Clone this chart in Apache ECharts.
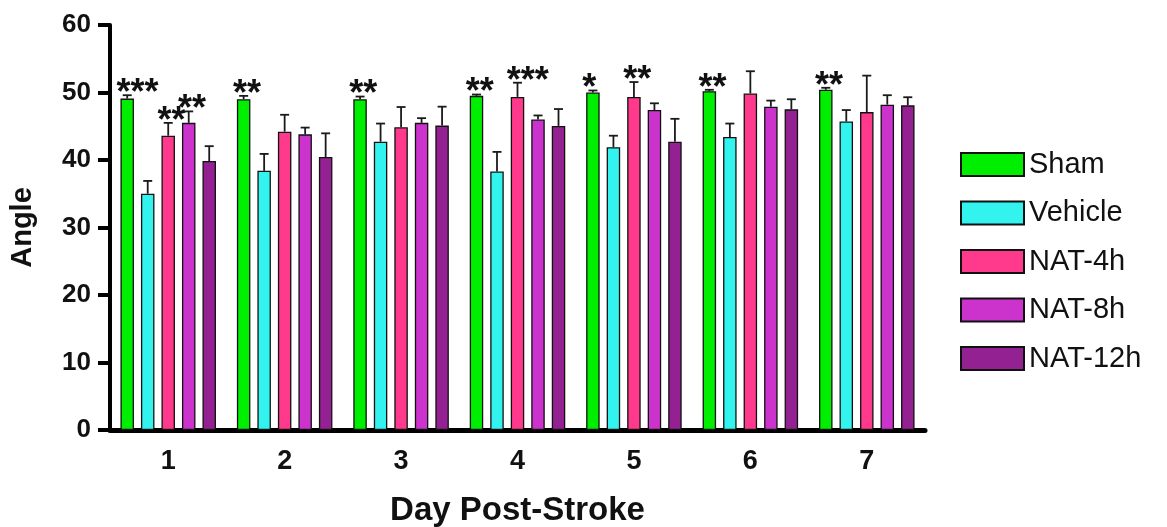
<!DOCTYPE html>
<html>
<head>
<meta charset="utf-8">
<script src="https://cdn.jsdelivr.net/npm/echarts@6/dist/echarts.min.js"></script>
<style>html,body{margin:0;padding:0;background:#fff;}#c{width:1167px;height:527px;}</style>
</head>
<body>
<div id="c"></div>
<script>
const days = ['1', '2', '3', '4', '5', '6', '7'];
const groups = ['Sham', 'Vehicle', 'NAT-4h', 'NAT-8h', 'NAT-12h'];
const yTicks = [0, 10, 20, 30, 40, 50, 60];

const shamMean = [49.1, 49.0, 49.0, 49.5, 50.0, 50.2, 50.4];
const shamErr = [0.5, 0.5, 0.4, 0.2, 0.3, 0.2, 0.3];
const vehicleMean = [35.0, 38.4, 42.7, 38.3, 41.9, 43.4, 45.7];
const vehicleErr = [1.9, 2.5, 2.7, 2.9, 1.7, 2.0, 1.7];
const nat4Mean = [43.6, 44.2, 44.85, 49.35, 49.35, 49.85, 47.1];
const nat4Err = [1.9, 2.5, 3.0, 2.1, 2.2, 3.3, 5.4];
const nat8Mean = [45.5, 43.8, 45.5, 46.0, 47.4, 47.9, 48.2];
const nat8Err = [1.7, 1.0, 0.7, 0.6, 1.0, 0.9, 1.4];
const nat12Mean = [39.85, 40.45, 45.1, 45.05, 42.7, 47.5, 48.1];
const nat12Err = [2.2, 3.5, 2.8, 2.5, 3.4, 1.5, 1.2];

const shamStars = ['***', '**', '**', '**', '*', '**', '**'];
const vehicleStars = ['', '', '', '', '', '', ''];
const nat4Stars = ['**', '', '', '***', '**', '', ''];
const nat8Stars = ['**', '', '', '', '', '', ''];
const nat12Stars = ['', '', '', '', '', '', ''];

const means = [shamMean, vehicleMean, nat4Mean, nat8Mean, nat12Mean];
const errs = [shamErr, vehicleErr, nat4Err, nat8Err, nat12Err];
const stars = [shamStars, vehicleStars, nat4Stars, nat8Stars, nat12Stars];
const colors = ['#00ee00', '#33f3ef', '#ff3a8c', '#cc33cc', '#942191'];

const FONT = "'Liberation Sans', Arial, Helvetica, sans-serif";
const BAR_W = 13.5;
const GAP = 7;

const chart = echarts.init(document.getElementById('c'), null, {renderer: 'canvas'});

const series = [];
groups.forEach((g, i) => {
  series.push({
    name: g,
    type: 'bar',
    barWidth: BAR_W,
    barGap: (GAP / BAR_W * 100).toFixed(1) + '%',
    data: means[i],
    itemStyle: {color: colors[i], borderColor: '#111', borderWidth: 1.3},
    emphasis: {disabled: true},
    z: 2
  });
});
groups.forEach((g, i) => {
  const offset = (i - 2) * (BAR_W + GAP);
  series.push({
    type: 'custom',
    name: g + '-err',
    data: days.map((d, k) => [k, means[i][k], errs[i][k]]),
    encode: {x: 0, y: 1},
    z: 3,
    silent: true,
    renderItem: function (params, api) {
      const k = api.value(0);
      const m = api.value(1);
      const e = api.value(2);
      const s = stars[i][k];
      const base = api.coord([k, m]);
      const top = api.coord([k, m + e]);
      const x = base[0] + offset;
      const children = [
        {type: 'line', shape: {x1: x, y1: base[1], x2: x, y2: top[1]}, style: {stroke: '#1a1a1a', lineWidth: 1.8}},
        {type: 'line', shape: {x1: x - 4.5, y1: top[1], x2: x + 4.5, y2: top[1]}, style: {stroke: '#1a1a1a', lineWidth: 1.8}}
      ];
      if (s) {
        children.push({
          type: 'text',
          style: {
            text: s, x: x - BAR_W / 2 - 4, y: top[1] - 1,
            align: 'left', verticalAlign: 'middle',
            font: 'bold 36px ' + FONT, fill: '#111'
          }
        });
      }
      return {type: 'group', children: children};
    }
  });
});

chart.setOption({
  animation: false,
  backgroundColor: '#fff',
  grid: {left: 110, top: 25, width: 815, height: 405, containLabel: false, outerBoundsMode: 'none'},
  legend: {
    data: groups,
    orient: 'vertical',
    left: 955,
    top: 145,
    itemWidth: 63,
    itemHeight: 23,
    itemGap: 19.5,
    icon: 'rect',
    textStyle: {fontSize: 29, color: '#111', fontFamily: FONT, padding: [0, 0, 0, 0]},
    selectedMode: false
  },
  xAxis: {
    type: 'category',
    data: days,
    name: 'Day Post-Stroke',
    nameLocation: 'middle',
    nameGap: 64,
    nameTextStyle: {fontSize: 33, fontWeight: 'bold', color: '#111', fontFamily: FONT},
    axisLine: {lineStyle: {color: '#000', width: 5}},
    axisTick: {alignWithLabel: true, length: 12, lineStyle: {color: '#000', width: 4}},
    axisLabel: {fontSize: 27, fontWeight: 'bold', color: '#111', fontFamily: FONT, margin: 18},
    splitLine: {show: false}
  },
  yAxis: {
    type: 'value',
    min: 0,
    max: 60,
    interval: 10,
    name: 'Angle',
    nameLocation: 'middle',
    nameGap: 73,
    nameTextStyle: {fontSize: 29, fontWeight: 'bold', color: '#111', fontFamily: FONT},
    axisLine: {show: true, lineStyle: {color: '#000', width: 4}},
    axisTick: {show: true, length: 12, lineStyle: {color: '#000', width: 4}},
    axisLabel: {fontSize: 26, fontWeight: 'bold', color: '#111', fontFamily: FONT, margin: 19,
      formatter: v => yTicks.includes(v) ? String(v) : ''},
    splitLine: {show: false}
  },
  series: series
});
</script>
</body>
</html>
